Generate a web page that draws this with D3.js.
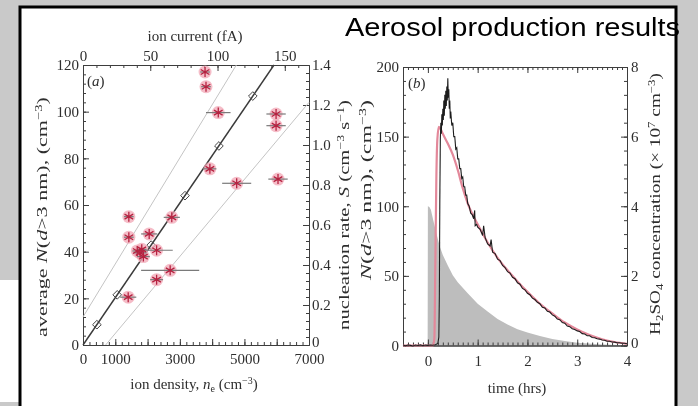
<!DOCTYPE html>
<html>
<head>
<meta charset="utf-8">
<script src="https://cdn.jsdelivr.net/npm/d3@7"></script>
<style>
  html, body { margin: 0; padding: 0; background: #c9c9c9; }
  svg { display: block; }
  .axis path, .axis line { stroke: #3c3c3c; stroke-width: 1; }
  .axis text { font-family: "Liberation Serif", "DejaVu Serif", serif; font-size: 15px; fill: #2e2e2e; }
  .title { font-family: "Liberation Serif", "DejaVu Serif", serif; font-size: 15px; fill: #2e2e2e; }
</style>
</head>
<body>
<svg id="chart" width="698" height="406"></svg>
<script>
// ---- panel (a): ion density vs average N ----
const densityTicks = [0, 1000, 2000, 3000, 4000, 5000, 6000, 7000];
const densityLabels = [0, 1000, 3000, 5000, 7000];
const avgNTicks = [0, 20, 40, 60, 80, 100, 120];
const currentTicks = [0, 50, 100, 150];
const rateTicks = [0, 0.2, 0.4, 0.6, 0.8, 1.0, 1.2, 1.4];

const obsDensity = [3780, 3810, 4190, 5980, 5980, 3930, 4760, 6040, 1420, 2750, 1420, 2050, 1770, 1870, 1680, 1820, 2280, 2700, 2280, 1400];
const obsN       = [117, 110.7, 99.6, 99, 94, 75.5, 69.3, 71.1, 55, 54.7, 46.2, 47.6, 39.5, 37.9, 40.3, 41, 40.6, 32, 28, 20.5];
const obsErr     = [150, 150, 380, 300, 300, 200, 450, 300, 150, 250, 150, 250, 200, 200, 150, 150, 500, 900, 200, 250];

const fitDensity = [0, 5916];
const fitN = [0, 120];
const upperDensity = [0, 4750];
const upperN = [12, 120];
const lowerDensity = [700, 7000];
const lowerN = [0, 104];
const markDensity = [430, 1060, 2110, 3160, 4210, 5260];
const markN = [8.7, 21.5, 42.8, 64, 85.3, 106.7];

// ---- panel (b): time series ----
const timeTicks = [0, 1, 2, 3, 4];
const nTicksB = [0, 50, 100, 150, 200];
const acidTicks = [0, 2, 4, 6, 8];

const acidTime = [-0.5, -0.005, 0, 0.03, 0.06, 0.1, 0.15, 0.2, 0.25, 0.3, 0.4, 0.5, 0.6, 0.8, 1.0, 1.2, 1.4, 1.6, 1.8, 2.0, 2.25, 2.5, 2.75, 3.0, 3.5, 4.0];
const acidConc = [0, 0, 4.0, 3.98, 3.9, 3.65, 3.35, 3.05, 2.8, 2.6, 2.3, 2.02, 1.82, 1.5, 1.2, 0.98, 0.76, 0.6, 0.47, 0.37, 0.27, 0.19, 0.13, 0.08, 0.03, 0.01];

const modelTime = [-0.5, 0.1, 0.13, 0.15, 0.17, 0.19, 0.22, 0.26, 0.3, 0.4, 0.5, 0.6, 0.7, 0.8, 1.0, 1.2, 1.4, 1.6, 1.8, 2.0, 2.25, 2.5, 2.75, 3.0, 3.25, 3.5, 3.75, 4.0];
const modelN = [0, 0, 5, 60, 120, 148, 157, 155, 152, 145, 137, 126, 113, 102, 87, 74, 63, 54, 46, 38.5, 30, 23, 16.5, 11.5, 7.5, 4.5, 2.5, 1.2];

const measured = [
  [-0.5, 0.3], [-0.45, -0.2], [-0.4, 0.4], [-0.35, 0.1], [-0.3, -0.3], [-0.25, 0.3], [-0.2, 0], [-0.15, 0.4],
  [-0.1, -0.2], [-0.05, 0.3], [0, 0.1], [0.05, 0.4], [0.1, 0.2], [0.15, 0.6], [0.2, 1.5], [0.22, 6],
  [0.23, 35], [0.24, 105], [0.25, 148], [0.26, 160], [0.27, 152], [0.28, 166], [0.29, 158], [0.30, 170],
  [0.31, 162], [0.32, 176], [0.33, 165], [0.34, 180], [0.35, 170], [0.36, 183], [0.37, 172], [0.38, 186],
  [0.39, 176], [0.40, 192], [0.41, 178], [0.42, 184], [0.43, 170], [0.44, 176], [0.45, 163], [0.46, 168],
  [0.48, 158], [0.50, 160], [0.52, 150], [0.54, 150], [0.56, 141], [0.58, 142], [0.60, 134], [0.62, 134],
  [0.64, 127], [0.66, 127], [0.68, 120], [0.70, 121], [0.72, 114], [0.74, 114], [0.76, 108], [0.78, 108],
  [0.80, 102], [0.83, 100], [0.86, 95], [0.89, 94], [0.92, 91], [0.94, 97], [0.95, 86], [0.98, 87],
  [1.00, 85], [1.05, 83.5], [1.10, 79], [1.12, 86], [1.15, 77.5], [1.20, 73], [1.25, 71.5], [1.27, 76],
  [1.30, 67], [1.35, 66], [1.40, 62], [1.45, 61], [1.50, 57.5], [1.55, 56], [1.60, 53], [1.65, 52],
  [1.70, 49], [1.75, 48], [1.80, 45], [1.85, 44], [1.90, 41], [1.95, 40], [2.00, 37.5], [2.05, 36.5],
  [2.10, 34], [2.15, 33], [2.20, 31], [2.25, 30], [2.30, 27.5], [2.35, 27], [2.40, 24.5], [2.45, 24],
  [2.50, 22], [2.55, 21], [2.60, 19], [2.65, 18.5], [2.70, 16.5], [2.75, 16], [2.80, 14], [2.85, 13.5],
  [2.90, 12], [2.95, 11.5], [3.00, 10.5], [3.05, 10], [3.10, 8.5], [3.15, 8.2], [3.20, 7], [3.25, 7],
  [3.30, 5.8], [3.35, 5.6], [3.40, 4.8], [3.45, 4.6], [3.50, 3.9], [3.55, 3.8], [3.60, 3.1], [3.65, 3.0],
  [3.70, 2.5], [3.75, 2.4], [3.80, 2.0], [3.85, 2.0], [3.90, 1.6], [3.95, 1.6], [4.00, 1.3]
];

const svg = d3.select('#chart');

// page background pieces (slide screenshot)
svg.append('rect').attr('width', 698).attr('height', 406).attr('fill', '#c9c9c9');
svg.append('rect').attr('x', 0).attr('y', 280).attr('width', 20).attr('height', 122).attr('fill', '#fff');
svg.append('rect').attr('x', 20).attr('y', 7).attr('width', 656).attr('height', 399).attr('fill', '#fff');
svg.append('path')
  .attr('d', 'M20,406V7H676V406')
  .attr('fill', 'none')
  .attr('stroke', '#000')
  .attr('stroke-width', 3);

const defs = svg.append('defs');
defs.append('filter').attr('id', 'soft')
  .append('feGaussianBlur').attr('stdDeviation', 0.45);

const fig = svg.append('g').attr('filter', 'url(#soft)');

function richText(sel, parts) {
  let shift = 0;
  parts.forEach(([s, kind]) => {
    const t = sel.append('tspan').text(s);
    let want = 0;
    if (kind === 'i') t.style('font-style', 'italic');
    if (kind === 'sup') { want = -5; t.attr('font-size', '10px'); }
    if (kind === 'sub') { want = 3; t.attr('font-size', '10px'); }
    if (want !== shift) t.attr('dy', want - shift);
    shift = want;
  });
  return sel;
}

function flatTitle(g, x, y, parts) {
  const t = g.append('text').attr('class', 'title')
    .attr('x', x).attr('y', y).attr('text-anchor', 'middle');
  return richText(t, parts);
}

function sideTitle(g, x, y, length, parts) {
  const t = g.append('text').attr('class', 'title').attr('text-anchor', 'middle');
  richText(t, parts);
  const natural = t.node().getComputedTextLength();
  t.attr('transform', `translate(${x},${y}) rotate(-90) scale(${length / natural},1)`);
  return t;
}

function axis(g, maker, scale, major, minor, fmt, pos, pad) {
  g.append('g').attr('class', 'axis').attr('transform', pos)
    .call(maker(scale).tickValues(minor).tickSize(-3).tickSizeOuter(0).tickFormat(''));
  return g.append('g').attr('class', 'axis').attr('transform', pos)
    .call(maker(scale).tickValues(major).tickSizeInner(-6).tickSizeOuter(0)
      .tickPadding(pad).tickFormat(fmt));
}

// lift the zero label of a right axis a little, clear of the bottom labels
function liftZero(axisG) {
  axisG.selectAll('.tick text').filter(d => d === 0).attr('dy', '0.1em');
}

// ================= panel (a) =================
const A = { left: 83, right: 309, top: 65, bottom: 345 };
const xA = d3.scaleLinear().domain([0, 7000]).range([A.left, A.right]);
const yA = d3.scaleLinear().domain([0, 120]).range([A.bottom, A.top]);
const xCur = d3.scaleLinear().domain([0, 168]).range([A.left, A.right]);
const yRate = d3.scaleLinear().domain([0, 1.4]).range([A.bottom, A.top]);

const ga = fig.append('g');

axis(ga, d3.axisBottom, xA, densityTicks, d3.range(0, 7001, 200),
  d => densityLabels.includes(d) ? d : '', `translate(0,${A.bottom})`, 8);
axis(ga, d3.axisTop, xCur, currentTicks, d3.range(0, 168, 10),
  d => d, `translate(0,${A.top})`, 4);
axis(ga, d3.axisLeft, yA, avgNTicks, d3.range(0, 121, 4),
  d => d, `translate(${A.left},0)`, 4);
liftZero(axis(ga, d3.axisRight, yRate, rateTicks, d3.range(0, 1.401, 0.04),
  d => d === 0 ? '0' : d.toFixed(1), `translate(${A.right},0)`, 3));

const lineA = d3.line().x(d => xA(d[0])).y(d => yA(d[1]));

ga.append('path').datum(d3.zip(upperDensity, upperN))
  .attr('d', lineA).attr('fill', 'none').attr('stroke', '#c4c4c4').attr('stroke-width', 1);
ga.append('path').datum(d3.zip(lowerDensity, lowerN))
  .attr('d', lineA).attr('fill', 'none').attr('stroke', '#c4c4c4').attr('stroke-width', 1);
ga.append('path').datum(d3.zip(fitDensity, fitN))
  .attr('d', lineA).attr('fill', 'none').attr('stroke', '#3a3a3a').attr('stroke-width', 1.4);

ga.selectAll('.mark')
  .data(d3.zip(markDensity, markN))
  .enter().append('path')
    .attr('class', 'mark')
    .attr('transform', d => `translate(${xA(d[0])},${yA(d[1])})`)
    .attr('d', d3.symbol(d3.symbolDiamond2, 48))
    .attr('fill', 'none')
    .attr('stroke', '#444')
    .attr('stroke-width', 1);

const obs = d3.zip(obsDensity, obsN, obsErr);

ga.selectAll('.halo')
  .data(obs)
  .enter().append('circle')
    .attr('class', 'halo')
    .attr('cx', d => xA(d[0]))
    .attr('cy', d => yA(d[1]))
    .attr('r', 6.5)
    .attr('fill', '#f1a7b6')
    .attr('opacity', 0.75);

ga.selectAll('.err')
  .data(obs)
  .enter().append('line')
    .attr('class', 'err')
    .attr('x1', d => xA(d[0] - d[2]))
    .attr('x2', d => xA(d[0] + d[2]))
    .attr('y1', d => yA(d[1]))
    .attr('y2', d => yA(d[1]))
    .attr('stroke', '#7a7a7a')
    .attr('stroke-width', 1.2);

ga.selectAll('.star')
  .data(obs)
  .enter().append('path')
    .attr('class', 'star')
    .attr('transform', d => `translate(${xA(d[0])},${yA(d[1])})`)
    .attr('d', d3.symbol(d3.symbolAsterisk, 70))
    .attr('fill', 'none')
    .attr('stroke', '#b52341')
    .attr('stroke-width', 1.3);

richText(ga.append('text').attr('class', 'title').attr('x', 87).attr('y', 86),
  [['('], ['a', 'i'], [')']]);

flatTitle(ga, 195, 41, [['ion current (fA)']]);
flatTitle(ga, 194, 389, [['ion density, '], ['n', 'i'], ['e', 'sub'], [' (cm'], ['\u22123', 'sup'], [')']]);
sideTitle(ga, 47, 217, 240, [['average '], ['N', 'i'], ['('], ['d', 'i'], ['>3 nm), (cm'], ['\u22123', 'sup'], [')']]);
sideTitle(ga, 349, 215, 230, [['nucleation rate, '], ['S', 'i'], [' (cm'], ['\u22123', 'sup'], [' s'], ['\u22121', 'sup'], [')']]);

// ================= panel (b) =================
const B = { left: 403, right: 627, top: 67, bottom: 345.5 };
const xB = d3.scaleLinear().domain([-0.5, 4]).range([B.left, B.right]);
const yB = d3.scaleLinear().domain([0, 200]).range([B.bottom, B.top]);
const yAcid = d3.scaleLinear().domain([0, 8]).range([B.bottom, B.top]);

const gb = fig.append('g');

gb.append('path').datum(d3.zip(acidTime, acidConc))
  .attr('d', d3.area().x(d => xB(d[0])).y0(B.bottom).y1(d => yAcid(d[1])))
  .attr('fill', '#bdbdbd');

axis(gb, d3.axisBottom, xB, timeTicks, d3.range(-0.5, 4.001, 0.1),
  d => d, `translate(0,${B.bottom})`, 10);
axis(gb, d3.axisTop, xB, timeTicks, d3.range(-0.5, 4.001, 0.1),
  '', `translate(0,${B.top})`, 4);
axis(gb, d3.axisLeft, yB, nTicksB, d3.range(0, 201, 10),
  d => d, `translate(${B.left},0)`, 4);
liftZero(axis(gb, d3.axisRight, yAcid, acidTicks, d3.range(0, 8.01, 0.4),
  d => d, `translate(${B.right},0)`, 4));

const lineB = d3.line().x(d => xB(d[0])).y(d => yB(d[1]));

gb.append('path').datum(d3.zip(modelTime, modelN))
  .attr('d', lineB.curve(d3.curveMonotoneX))
  .attr('fill', 'none').attr('stroke', '#e3889a').attr('stroke-width', 2.2);
gb.append('path').datum(measured)
  .attr('d', d3.line().x(d => xB(d[0])).y(d => yB(d[1])))
  .attr('fill', 'none').attr('stroke', '#1e1e1e').attr('stroke-width', 1.1);

richText(gb.append('text').attr('class', 'title').attr('x', 408).attr('y', 88),
  [['('], ['b', 'i'], [')']]);

flatTitle(gb, 517, 393, [['time (hrs)']]);
sideTitle(gb, 371, 190, 180, [['N', 'i'], ['('], ['d', 'i'], ['>3 nm), (cm'], ['\u22123', 'sup'], [')']]);
sideTitle(gb, 660, 204, 262, [['H'], ['2', 'sub'], ['SO'], ['4', 'sub'], [' concentration (\u00d7 10'], ['7', 'sup'], [' cm'], ['\u22123', 'sup'], [')']]);

// slide title, drawn over the frame
svg.append('text')
  .attr('x', 345)
  .attr('y', 36)
  .attr('textLength', 335)
  .attr('lengthAdjust', 'spacingAndGlyphs')
  .style('font-family', '"Liberation Sans", Arial, sans-serif')
  .style('font-size', '26px')
  .attr('fill', '#000')
  .text('Aerosol production results');
</script>
</body>
</html>
